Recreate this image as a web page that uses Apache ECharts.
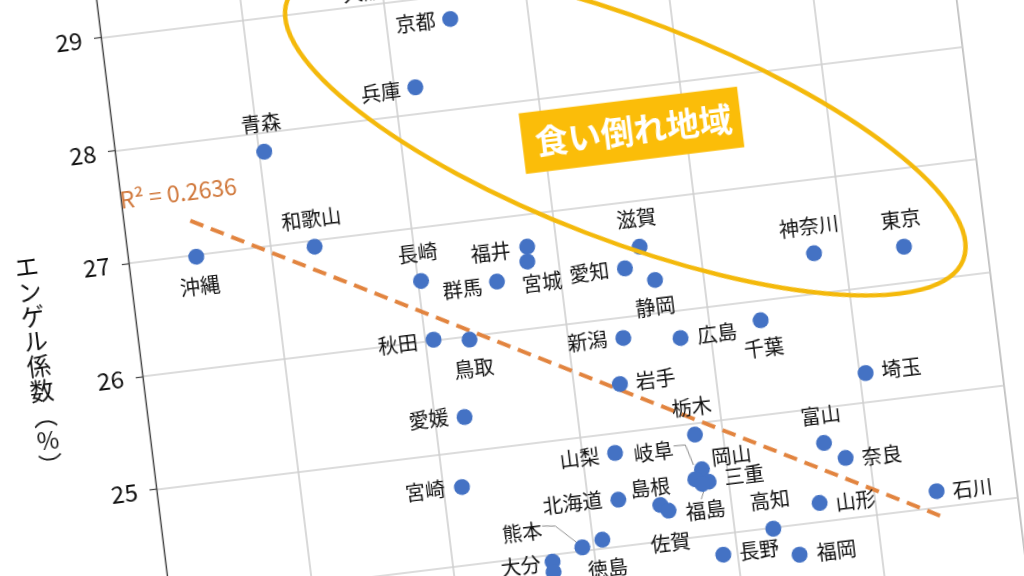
<!DOCTYPE html>
<html><head><meta charset="utf-8">
<script src="https://cdn.jsdelivr.net/npm/echarts@6/dist/echarts.min.js"></script>
<style>
html,body{margin:0;padding:0;width:1024px;height:576px;overflow:hidden;background:#fff;}
#chart{position:absolute;left:-49.3px;top:-116px;width:1060px;height:1040px;transform-origin:150px 153.7px;transform:rotate(-7deg);}
</style></head><body><div id="chart"></div>
<script>
// ---- data ----
const prefectures = ['大阪','京都','兵庫','青森','和歌山','沖縄','長崎','福井','宮城','群馬','愛知','滋賀','静岡','神奈川','東京','秋田','鳥取','愛媛','宮崎','新潟','広島','千葉','埼玉','岩手','栃木','富山','奈良','石川','山梨','岡山','岐阜','三重','福島','島根','佐賀','北海道','高知','山形','徳島','熊本','大分','鹿児島','長野','福岡'];
const xValues = [2.11,2.452,2.150,1.041,1.311,0.477,2.024,2.794,2.782,2.553,3.457,3.578,3.657,4.789,5.422,2.061,2.312,2.211,2.133,3.386,3.785,4.359,5.046,3.323,3.803,4.696,4.834,5.440,3.230,3.822,3.767,3.858,3.812,3.501,3.554,3.213,4.269,4.614,3.067,2.921,2.701,2.699,3.898,4.430];
const yValues = [29.12,28.789,28.230,27.830,26.947,26.986,26.533,26.719,26.588,26.446,26.425,26.598,26.291,26.354,26.315,26.007,25.969,25.299,24.691,25.819,25.757,25.826,25.253,25.421,24.898,24.687,24.533,24.145,24.824,24.588,24.508,24.473,24.460,24.321,24.263,24.412,23.993,24.168,24.080,24.035,23.942,23.851,23.820,23.738];
const trendX = [0.466, 5.443];
const trendY = [27.307, 23.928];
const r2Text = 'R² = 0.2636';
const yTitle = 'エンゲル係数（%）';
const calloutText = '食い倒れ地域';
const yMin = 22, yMax = 30, yStep = 1;
const xMin = 0, xMax = 6, xStep = 1;

// ---- layout (label offsets in px, annotation anchors) ----
const labelOffsets = {
 '大阪':[-35,0],'京都':[-35,0],'兵庫':[-35,1],'青森':[0,-28],'和歌山':[0,-28],'沖縄':[0,30],'長崎':[0,-28],
 '福井':[-37,1],'宮城':[12,22],'群馬':[-35,3],'愛知':[-36,0],'滋賀':[0,-28],'静岡':[-3,27],'神奈川':[-2,-27],
 '東京':[0,-28],'秋田':[-36,0],'鳥取':[1,29],'愛媛':[-36,-2],'宮崎':[-37,0],'新潟':[-36,-1],'広島':[37,0],
 '千葉':[0,28],'埼玉':[36,0],'岩手':[36,0],'栃木':[0,-28],'富山':[0,-28],'奈良':[36,2],'石川':[36,2],
 '山梨':[-36,1],'岡山':[31,-10],'岐阜':[-38,-32],'三重':[36,-2],'福島':[0,27],'島根':[-8,-18],'佐賀':[-2,32],
 '北海道':[-46,-2],'高知':[0,-29],'山形':[36,2],'徳島':[2,29],'熊本':[-58,-22],'大分':[-32,1],'鹿児島':[0,30],
 '長野':[36,0],'福岡':[37,0]
};
const leaders = {
 '岐阜':[[-17.5,-35.7],[-5.7,-35.3],[0,-14.4]],
 '熊本':[[-37.4,-26.1],[-24.2,-24.4],[-4.7,-5.2]],
 '福島':[[0.4,7.8],[-2.9,15.1]]
};
const ellipseAnchor = [3.578, 27.632];
const boxAnchor = [3.621, 27.623];
const r2Anchor = [0.406, 27.561];
const titleAnchorY = 26.2;

const FONT = '"Noto Sans CJK JP", "Noto Sans", sans-serif';
const chart = echarts.init(document.getElementById('chart'));

const scatterData = prefectures.map((n, i) => ({
  name: n,
  value: [xValues[i], yValues[i]],
  label: { offset: labelOffsets[n] || [0, -28] }
}));

const option = {
  animation: false,
  backgroundColor: '#ffffff',
  grid: { left: 150, top: 40, width: 853.8, height: 909.6, show: true, borderColor: '#555', borderWidth: 1, backgroundColor: 'transparent' },
  xAxis: {
    type: 'value', min: xMin, max: xMax, interval: xStep,
    axisLine: { show: true, lineStyle: { color: '#555' } },
    axisTick: { show: false },
    axisLabel: { color: '#222', fontSize: 20, fontFamily: FONT },
    splitLine: { show: true, lineStyle: { color: '#d0d0d0', width: 1.6 } }
  },
  yAxis: {
    type: 'value', min: yMin, max: yMax, interval: yStep,
    axisLine: { show: true, lineStyle: { color: '#444', width: 1.2 } },
    axisTick: { show: true, length: 7, lineStyle: { color: '#444', width: 1.2 } },
    axisLabel: { color: '#111', fontSize: 24, fontFamily: FONT, margin: 19 },
    splitLine: { show: true, lineStyle: { color: '#d0d0d0', width: 1.6 } }
  },
  series: [
    {
      type: 'line',
      data: trendX.map((x, i) => [x, trendY[i]]),
      showSymbol: false, symbol: 'none',
      lineStyle: { color: '#E2843F', width: 4, type: [14, 8] },
      z: 3, silent: true
    },
    {
      type: 'scatter',
      data: scatterData,
      symbolSize: 16,
      itemStyle: { color: '#4472C4', opacity: 1 },
      label: { show: true, position: 'inside', formatter: '{b}', color: '#111', fontSize: 20, fontFamily: FONT },
      z: 4
    }
  ]
};
chart.setOption(option);

const px = (p) => chart.convertToPixel({ gridIndex: 0 }, p);
const graphics = [];
const ec = px(ellipseAnchor);
graphics.push({
  type: 'ellipse', position: ec, rotation: -28 * Math.PI / 180,
  shape: { cx: 0, cy: 0, rx: 362, ry: 110 },
  style: { fill: null, stroke: '#F4B90B', lineWidth: 4.5 }, z: 10, silent: true
});
const bc = px(boxAnchor);
graphics.push({
  type: 'group', position: bc, z: 11, silent: true,
  children: [
    { type: 'rect', shape: { x: -110, y: -30.5, width: 220, height: 61 }, style: { fill: '#FBBD09' }, z: 11 },
    { type: 'text', style: { text: calloutText, x: 2, y: 0, align: 'center', verticalAlign: 'middle', fill: '#ffffff', font: 'bold 33px ' + FONT }, z: 12 }
  ]
});
const rc = px(r2Anchor);
graphics.push({
  type: 'text', position: rc, z: 10, silent: true,
  style: { text: r2Text, x: 0, y: 0, align: 'center', verticalAlign: 'middle', fill: '#D0773A', font: '23px ' + FONT }
});
const vertical = yTitle.replace('（', '︵').replace('）', '︶').split('').join('\n');
const ty = px([0, titleAnchorY]);
graphics.push({
  type: 'text', position: [ty[0] - 101.7, ty[1]], z: 10, silent: true,
  style: { text: vertical, x: 0, y: 0, align: 'center', verticalAlign: 'middle', fill: '#111', font: '24px ' + FONT, lineHeight: 25 }
});
Object.keys(leaders).forEach(n => {
  const i = prefectures.indexOf(n);
  const p = px([xValues[i], yValues[i]]);
  graphics.push({
    type: 'polyline', z: 3, silent: true,
    shape: { points: leaders[n].map(o => [p[0] + o[0], p[1] + o[1]]) },
    style: { stroke: '#8c8c8c', lineWidth: 1, fill: null }
  });
});
chart.setOption({ graphic: graphics });
</script></body></html>
